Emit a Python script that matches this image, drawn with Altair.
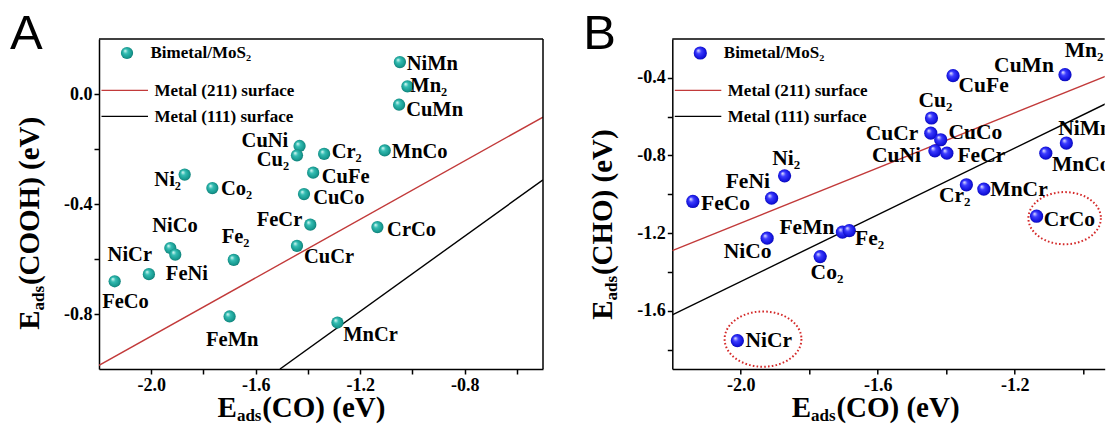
import altair as alt
import pandas as pd

# ---------------- Panel A: E_ads(COOH) vs E_ads(CO) ----------------
a_names = ["NiMn", "Mn₂", "CuMn", "CuNi", "Cu₂", "Cr₂", "MnCo", "CuFe", "Ni₂", "Co₂",
           "CuCo", "FeCr", "CrCo", "CuCr", "NiCo", "FeNi", "NiCr", "Fe₂", "FeCo", "FeMn", "MnCr"]
a_co = [-1.048, -1.019, -1.051, -1.432, -1.442, -1.338, -1.106, -1.380, -1.872, -1.766,
        -1.415, -1.391, -1.134, -1.442, -1.927, -1.908, -2.009, -1.684, -2.140, -1.700, -1.287]
a_cooh = [0.116, 0.028, -0.039, -0.189, -0.223, -0.218, -0.205, -0.286, -0.293, -0.342,
          -0.364, -0.475, -0.484, -0.552, -0.560, -0.584, -0.655, -0.603, -0.681, -0.809, -0.831]
a_lab_x = [-1.022, -1.008, -1.024, -1.654, -1.596, -1.309, -1.079, -1.347, -1.988, -1.733,
           -1.380, -1.596, -1.097, -1.415, -1.996, -1.944, -2.167, -1.730, -2.188, -1.790, -1.265]
a_lab_y = [0.110, 0.030, -0.057, -0.172, -0.239, -0.212, -0.212, -0.300, -0.312, -0.345,
           -0.378, -0.457, -0.493, -0.593, -0.479, -0.653, -0.586, -0.520, -0.758, -0.893, -0.875]
a_211_x = [-2.2, -0.5]
a_211_y = [-0.987, -0.084]
a_111_x = [-1.507, -0.5]
a_111_y = [-1.0, -0.312]
a_xdom = [-2.2, -0.5]
a_ydom = [-1.0, 0.2]
a_xticks = [-2.0, -1.8, -1.6, -1.4, -1.2, -1.0, -0.8, -0.6]
a_yticks = [-0.8, -0.6, -0.4, -0.2, 0.0]

# ---------------- Panel B: E_ads(CHO) vs E_ads(CO) ----------------
b_names = ["CuMn", "CuFe", "Cu₂", "CuCr", "CuCo", "CuNi", "FeCr", "Cr₂", "MnCr", "NiMn",
           "MnCo", "CrCo", "Ni₂", "FeNi", "FeCo", "NiCo", "FeMn", "Fe₂", "Co₂", "NiCr"]
b_co = [-1.053, -1.380, -1.443, -1.445, -1.416, -1.433, -1.398, -1.341, -1.290, -1.049,
        -1.109, -1.136, -1.872, -1.910, -2.140, -1.923, -1.703, -1.683, -1.768, -2.010]
b_cho = [-0.384, -0.389, -0.607, -0.685, -0.719, -0.776, -0.788, -0.951, -0.973, -0.736,
         -0.788, -1.113, -0.905, -1.020, -1.037, -1.226, -1.195, -1.187, -1.321, -1.754]
b_lab_names = b_names + ["Mn₂"]
b_lab_x = [-1.260, -1.364, -1.481, -1.635, -1.393, -1.617, -1.367, -1.421, -1.271, -1.073,
           -1.091, -1.115, -1.908, -2.044, -2.116, -2.050, -1.887, -1.666, -1.796, -1.986, -1.054]
b_lab_y = [-0.341, -0.441, -0.518, -0.690, -0.685, -0.805, -0.805, -1.011, -0.980, -0.662,
           -0.848, -1.131, -0.819, -0.939, -1.049, -1.298, -1.174, -1.231, -1.406, -1.754, -0.264]
b_211_x = [-2.2, -0.91]
b_211_y = [-1.290, -0.375]
b_111_x = [-2.2, -0.91]
b_111_y = [-1.621, -0.513]
b_ring_names = ["NiCr", "CrCo"]
b_ring_x = [-1.935, -1.054]
b_ring_y = [-1.746, -1.123]
b_xdom = [-2.2, -0.937]
b_ydom = [-1.9, -0.2]
b_xticks = [-2.0, -1.8, -1.6, -1.4, -1.2, -1.0]
b_yticks = [-1.8, -1.6, -1.4, -1.2, -1.0, -0.8, -0.6, -0.4]

legend_texts = ["Bimetal/MoS₂", "Metal (211) surface", "Metal (111) surface"]

SERIF = "Liberation Serif"
SANS = "Liberation Sans"
RED = "#c23a3a"
ONE = pd.DataFrame({"k": [0]})

TEAL = alt.RadialGradient(
    gradient="radial", x1=0.33, y1=0.3, r1=0.0, x2=0.5, y2=0.5, r2=0.55,
    stops=[alt.GradientStop(offset=0.0, color="#e9fffb"),
           alt.GradientStop(offset=0.35, color="#34bdb3"),
           alt.GradientStop(offset=0.8, color="#16978e"),
           alt.GradientStop(offset=1.0, color="#0c6d66")])
BLUE = alt.RadialGradient(
    gradient="radial", x1=0.33, y1=0.3, r1=0.0, x2=0.5, y2=0.5, r2=0.55,
    stops=[alt.GradientStop(offset=0.0, color="#eeeeff"),
           alt.GradientStop(offset=0.35, color="#3c3cff"),
           alt.GradientStop(offset=0.8, color="#1212dc"),
           alt.GradientStop(offset=1.0, color="#08089a")])

ELLIPSE = ("M1,0 C1,0.3977 0.5523,0.72 0,0.72 C-0.5523,0.72 -1,0.3977 -1,0 "
           "C-1,-0.3977 -0.5523,-0.72 0,-0.72 C0.5523,-0.72 1,-0.3977 1,0 Z")

LABEL_EXPR = ("round(datum.value*10) % 4 == 0 ? "
              "replace(format(datum.value, '.1f'), '\u2212', '-') : ''")


def axis(values, pad):
    return alt.Axis(values=values, labelExpr=LABEL_EXPR, title=None, grid=False,
                    tickSize=5, tickWidth=1.5, tickColor="black",
                    domainWidth=1.5, domainColor="black",
                    labelFont=SERIF, labelFontWeight="bold", labelFontSize=18,
                    labelColor="black", labelPadding=pad, labelOverlap=False,
                    labelFlush=False)


def ptext(txt, x, y, size, font=SERIF, weight="bold", angle=0):
    kw = dict(text=txt, font=font, fontSize=size, fontWeight=weight,
              align="left", baseline="alphabetic", color="black")
    if angle:
        kw["angle"] = angle
    return alt.Chart(ONE).mark_text(**kw).encode(x=alt.value(x), y=alt.value(y))


def prule(x1, x2, y1, y2, color, width):
    enc = dict(x=alt.value(x1), y=alt.value(y1))
    if x2 is not None:
        enc["x2"] = alt.value(x2)
    if y2 is not None:
        enc["y2"] = alt.value(y2)
    return alt.Chart(ONE).mark_rule(color=color, strokeWidth=width).encode(**enc)


def panel(letter, names, xs, ys, lab_names, lab_x, lab_y, l211, l111,
          xdom, ydom, xticks, yticks, W, H, grad, psize, lfs, ytitle_rest,
          ytitle_y, xtitle_x, right_border, clip_labels, rings=None):
    xsc = alt.Scale(domain=xdom, nice=False, zero=False)
    ysc = alt.Scale(domain=ydom, nice=False, zero=False)
    xax = axis(xticks, 2)
    yax = axis(yticks, 2)

    def X(f):
        return alt.X(f + ":Q", scale=xsc, axis=xax, title=None)

    def Y(f):
        return alt.Y(f + ":Q", scale=ysc, axis=yax, title=None)

    pts = pd.DataFrame({"name": names, "x": xs, "y": ys})
    labs = pd.DataFrame({"name": lab_names, "x": lab_x, "y": lab_y})
    d211 = pd.DataFrame({"x": l211[0], "y": l211[1]})
    d111 = pd.DataFrame({"x": l111[0], "y": l111[1]})

    layers = [
        alt.Chart(d211).mark_line(color=RED, strokeWidth=1.4, clip=True).encode(x=X("x"), y=Y("y")),
        alt.Chart(d111).mark_line(color="black", strokeWidth=1.4, clip=True).encode(x=X("x"), y=Y("y")),
    ]
    if rings is not None:
        rdf = pd.DataFrame({"name": rings[0], "x": rings[1], "y": rings[2]})
        layers.append(alt.Chart(rdf).transform_filter(alt.datum.name == "NiCr").mark_point(
            shape=ELLIPSE, size=5900, filled=False, stroke="#d42a2a", strokeWidth=2,
            strokeDash=[1.6, 2.2], opacity=1).encode(x=X("x"), y=Y("y")))
        layers.append(alt.Chart(rdf).transform_filter(alt.datum.name == "CrCo").mark_point(
            shape=ELLIPSE, size=5250, filled=False, stroke="#d42a2a", strokeWidth=2,
            strokeDash=[1.6, 2.2], opacity=1).encode(x=X("x"), y=Y("y")))
    layers += [
        alt.Chart(pts).mark_point(shape="circle", filled=True, fill=grad, size=psize,
                                  strokeWidth=0, opacity=1).encode(x=X("x"), y=Y("y")),
        alt.Chart(labs).mark_text(align="left", baseline="middle", font=SERIF,
                                  fontWeight="bold", fontSize=lfs, color="black",
                                  clip=clip_labels).encode(x=X("x"), y=Y("y"), text="name:N"),
        # legend
        alt.Chart(ONE).mark_point(shape="circle", filled=True, fill=grad, size=psize,
                                  strokeWidth=0, opacity=1).encode(x=alt.value(28), y=alt.value(14)),
        ptext(legend_texts[0], 51.5, 19, 17),
        prule(2.5, 49, 51.4, None, RED, 1.4),
        ptext(legend_texts[1], 55.5, 57, 17),
        prule(2.5, 49, 77.4, None, "black", 1.4),
        ptext(legend_texts[2], 55.5, 83, 17),
        # frame
        prule(0, W, 0, None, "black", 1.5),
        # panel letter
        ptext(letter, -89, 10, 49, font=SANS, weight="normal"),
        # x title: E_ads(CO) (eV)
        ptext("E", xtitle_x, 378, 29),
        ptext("ads", xtitle_x + 19.3, 381.5, 17),
        ptext("(CO) (eV)", xtitle_x + 44.6, 378, 29),
        # y title
        ptext("E", -60, ytitle_y, 29, angle=270),
        ptext("ads", -55, ytitle_y - 19.3, 17, angle=270),
        ptext(ytitle_rest, -60, ytitle_y - 44.6, 29, angle=270),
    ]
    if right_border:
        layers.append(prule(W, None, 0, H, "black", 1.5))
    return alt.layer(*layers).properties(width=W, height=H)


panel_a = panel("A", a_names, a_co, a_cooh, a_names, a_lab_x, a_lab_y,
                (a_211_x, a_211_y), (a_111_x, a_111_y), a_xdom, a_ydom,
                a_xticks, a_yticks, 444, 330, TEAL, 150, 20.5, "(COOH) (eV)",
                290.7, 118.6, True, False)
panel_b = panel("B", b_names, b_co, b_cho, b_lab_names, b_lab_x, b_lab_y,
                (b_211_x, b_211_y), (b_111_x, b_111_y), b_xdom, b_ydom,
                b_xticks, b_yticks, 432.4, 330, BLUE, 175, 21.5, "(CHO) (eV)",
                280.7, 119.5, False, True,
                rings=(b_ring_names, b_ring_x, b_ring_y))

chart = alt.hconcat(panel_a, panel_b, spacing=129.3, bounds="flush").properties(
    padding={"left": 2, "top": 2, "right": 0, "bottom": 0},
    background="white",
).configure_view(strokeWidth=0)

chart.save("out.html", embed_options={"renderer": "svg", "actions": False})
